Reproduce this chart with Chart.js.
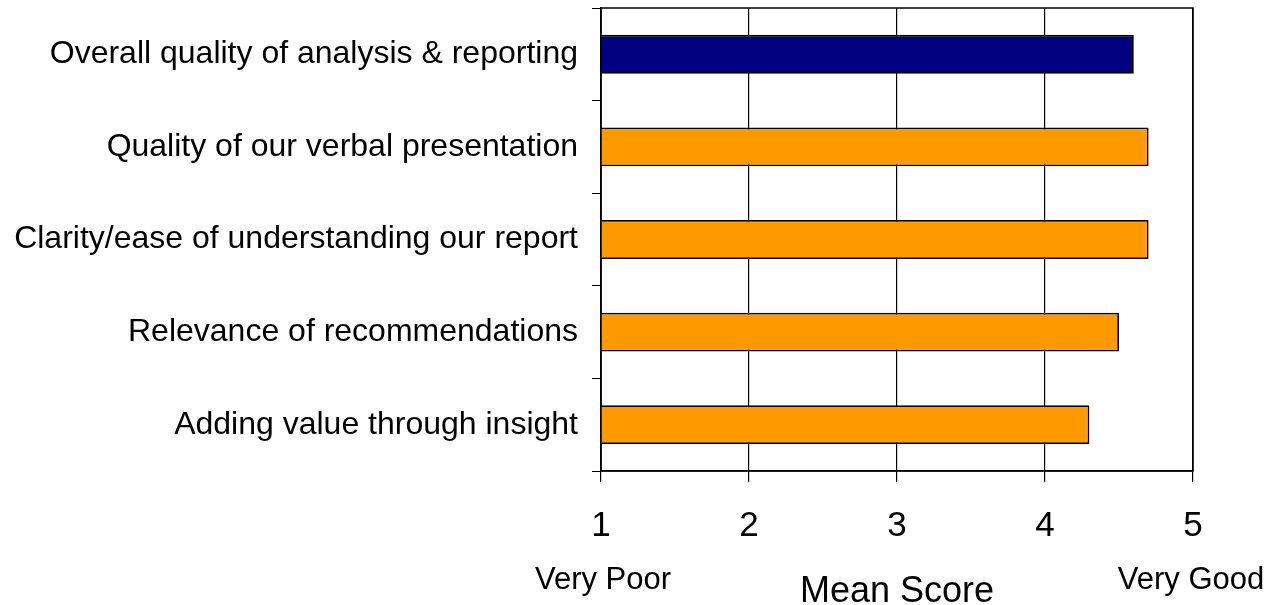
<!DOCTYPE html>
<html>
<head>
<meta charset="utf-8">
<script src="https://cdn.jsdelivr.net/npm/chart.js@4.4.0/dist/chart.umd.min.js"></script>
<style>
  html, body { margin: 0; padding: 0; background: #fff; }
  #wrap { width: 1272px; height: 605px; }
</style>
</head>
<body>
<div id="wrap"><canvas id="myChart" width="1272" height="605"></canvas></div>
<script>
// Data
const categories = [
    'Overall quality of analysis & reporting',
    'Quality of our verbal presentation',
    'Clarity/ease of understanding our report',
    'Relevance of recommendations',
    'Adding value through insight'
];
const meanScores = [4.6, 4.7, 4.7, 4.5, 4.3];
const barColors = ['#000080', '#FF9900', '#FF9900', '#FF9900', '#FF9900'];
const scaleEnds = ['Very Poor', 'Very Good'];

const FONT = '"Liberation Sans", Arial, sans-serif';

// Box around the plot + end labels under the axis
const frame = {
    id: 'frame',
    afterDraw(chart) {
        const c = chart.ctx, a = chart.chartArea, xs = chart.scales.x;
        c.save();
        c.strokeStyle = '#000';
        c.lineWidth = 1.5;
        c.strokeRect(a.left, a.top, a.right - a.left, a.bottom - a.top);
        c.fillStyle = '#000';
        c.font = '31px ' + FONT;
        c.textAlign = 'center';
        c.textBaseline = 'middle';
        c.fillText(scaleEnds[0], xs.getPixelForValue(1) + 2, 580);
        c.fillText(scaleEnds[1], xs.getPixelForValue(5) - 2, 580);
        c.restore();
    }
};

const ctx = document.getElementById('myChart').getContext('2d');
const scoreChart = new Chart(ctx, {
    type: 'bar',
    data: {
        labels: categories,
        datasets: [{
            data: meanScores,
            backgroundColor: barColors,
            borderColor: '#000',
            borderWidth: 1.8,
            barPercentage: 0.42,
            categoryPercentage: 1
        }]
    },
    options: {
        indexAxis: 'y',
        responsive: false,
        animation: false,
        layout: { padding: { top: 8, right: 79, left: 0, bottom: 0 } },
        plugins: { legend: { display: false }, tooltip: { enabled: false } },
        scales: {
            x: {
                min: 1,
                max: 5,
                ticks: {
                    stepSize: 1,
                    color: '#000',
                    padding: 23,
                    font: { family: FONT, size: 35 }
                },
                grid: { color: '#000', lineWidth: 1.2, tickLength: 11 },
                border: { color: '#000', width: 1.5 },
                title: {
                    display: true,
                    text: 'Mean Score',
                    color: '#000',
                    padding: { top: 0, bottom: 0 },
                    font: { family: FONT, size: 36, lineHeight: 0.72 }
                },
                afterFit(scale) {
                    scale.height = 134;
                    scale.paddingLeft = 0;
                    scale.paddingRight = 0;
                }
            },
            y: {
                ticks: {
                    color: '#000',
                    padding: 14,
                    font: { family: FONT, size: 32 }
                },
                grid: { drawOnChartArea: false, offset: true, color: '#000', tickLength: 9 },
                border: { color: '#000', width: 1.5 },
                afterFit(scale) {
                    scale.width = 601;
                    scale.paddingTop = 0;
                    scale.paddingBottom = 0;
                }
            }
        }
    },
    plugins: [frame]
});
</script>
</body>
</html>
